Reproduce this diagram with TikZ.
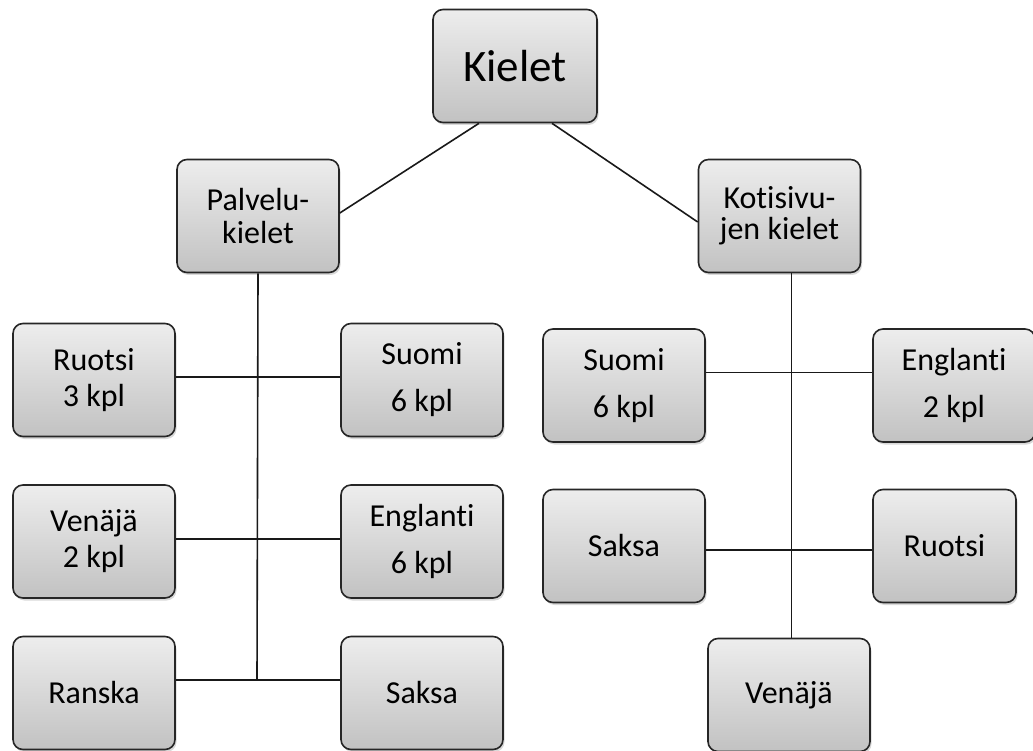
\documentclass[tikz,border=0pt]{standalone}
\usepackage{fontspec}
\setmainfont{Carlito}[Ligatures=NoCommon]
\usetikzlibrary{shadows}
\usetikzlibrary{calc}

\begin{document}
\begin{tikzpicture}[x=1pt, y=-1pt,
    box/.style={draw=black!85, line width=1.6pt, rounded corners=10pt,
      top color=gray!14, bottom color=gray!48, minimum width=162pt,
      minimum height=113pt, inner sep=0pt, align=center,
      font=\fontsize{32}{38}\selectfont,
      drop shadow={shadow xshift=1.5pt, shadow yshift=-2.5pt, opacity=0.3}},
    topbox/.style={box, minimum width=164pt, font=\fontsize{45}{52}\selectfont},
    link/.style={line width=1.6pt, black!90}]

      \useasboundingbox (0,0) rectangle (1033,751);

      % juuri ja kaksi haaraa
      \node[topbox] (kielet) at (515,66) {Kielet};
      \node[box] (palvelu) at (258,216) {Palvelu-\\[-5pt]kielet};
      \node[box] (koti) at (779.5,216) {Kotisivu-\\[-7pt]jen kielet};

      % palvelukielet
      \node[box] (ruotsiA) at (94,380) {Ruotsi\\[-2pt]3 kpl};
      \node[box] (suomiA) at (422,380) {Suomi\\[9pt]6 kpl};
      \node[box] (venajaA) at (94,541.5) {Venäjä\\[-2pt]2 kpl};
      \node[box] (englantiA) at (422,541.5) {Englanti\\[9pt]6 kpl};
      \node[box] (ranska) at (94,693) {Ranska};
      \node[box] (saksaA) at (422,693) {Saksa};

      % kotisivujen kielet
      \node[box] (suomiB) at (624,385.5) {Suomi\\[9pt]6 kpl};
      \node[box] (englantiB) at (954,385.5) {Englanti\\[9pt]2 kpl};
      \node[box] (saksaB) at (624,546) {Saksa};
      \node[box, minimum width=143pt] (ruotsiB) at (944.5,546) {Ruotsi};
      \node[box] (venajaB) at (789,695) {Venäjä};

      \draw[link] ([xshift=-36pt]kielet.south) -- ([yshift=3pt]palvelu.east);
      \draw[link] ([xshift=37pt]kielet.south) -- ([yshift=-6pt]koti.west);

      \coordinate (alaA) at ($(palvelu.south)+(-1,407)$);
      \draw[link] (palvelu.south) -- (alaA);
      \draw[link] ([yshift=3pt]ruotsiA.east) -- ([yshift=3pt]suomiA.west);
      \draw[link] ([yshift=2.5pt]venajaA.east) -- ([yshift=2.5pt]englantiA.west);
      \draw[link] ([yshift=13pt]ranska.east) -- ([yshift=13pt]saksaA.west);

      \draw[link] ([xshift=12pt]koti.south) -- ([xshift=12pt]koti.south |- venajaB.north);
      \draw[link] ([yshift=13pt]suomiB.east) -- ([yshift=13pt]englantiB.west);
      \draw[link] ([yshift=-4pt]saksaB.east) -- ([yshift=-4pt]ruotsiB.west);
    \end{tikzpicture}
\end{document}
